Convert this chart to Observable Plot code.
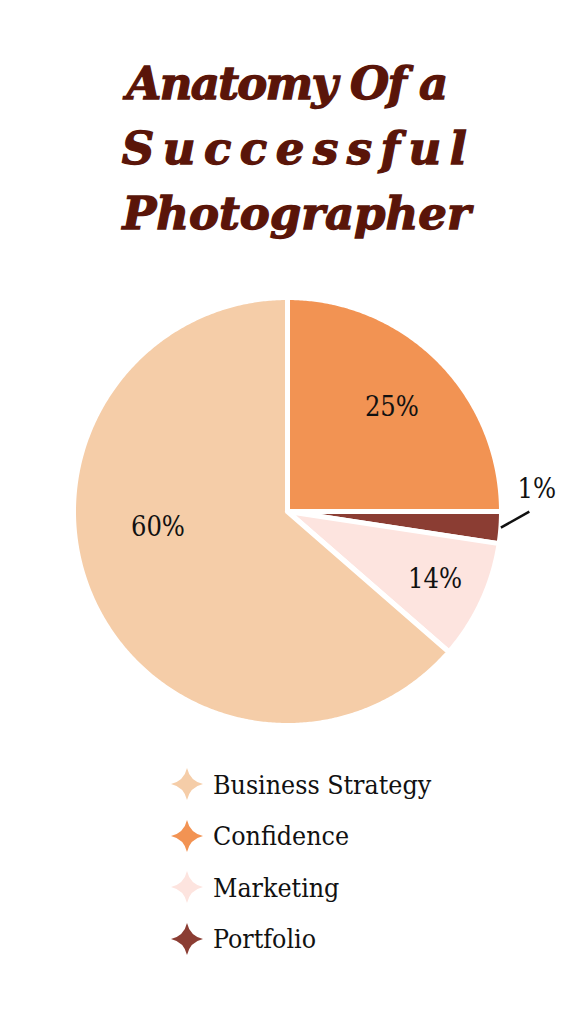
<!DOCTYPE html>
<html>
<head>
<meta charset="utf-8">
<script src="https://cdn.jsdelivr.net/npm/d3@7"></script>
<script src="https://cdn.jsdelivr.net/npm/@observablehq/plot@0.6"></script>
<style>
  html, body { margin: 0; padding: 0; background: #ffffff; }
  body { width: 573px; height: 1024px; position: relative; overflow: hidden; }
  #title { position: absolute; left: 0; top: 0; width: 573px; text-align: center;
    font-family: "DejaVu Serif", serif; font-weight: bold; font-style: italic; color: #5a1509;
    -webkit-text-stroke: 1.3px #5a1509; }
  #title div { position: absolute; left: 0; width: 573px; font-size: 45px; line-height: 1; white-space: nowrap; }
  #chart { position: absolute; left: 0; top: 260px; }
  #legend { position: absolute; left: 170px; top: 764px; font-family: "DejaVu Serif Condensed", "DejaVu Serif", serif; font-size: 26.5px; color: #111; }
  .row { position: absolute; left: 0; height: 40px; display: flex; align-items: center; white-space: nowrap; }
  .row svg { margin-right: 9px; }
</style>
</head>
<body>
<div id="title">
  <div style="top:61px; letter-spacing:-1.7px; padding-left:0px;">Anatomy Of a</div>
  <div style="top:126px; letter-spacing:8.5px; padding-left:12px;">Successful</div>
  <div style="top:191px; letter-spacing:0px; padding-left:10px;">Photographer</div>
</div>
<div id="chart"></div>
<div id="legend"></div>
<script>
// ---- data ----
const categories = ["Business Strategy", "Confidence", "Marketing", "Portfolio"];
// angular share of each slice as drawn in the picture (percent of the circle)
const shares = [63.6, 25, 9, 2.4];
// percentage labels printed on the chart
const labelValues = [60, 25, 14, 1];
const colors = ["#f5cda8", "#f29353", "#fde4df", "#8b3d33"];
// order in which slices run clockwise from 12 o'clock
const drawOrder = ["Confidence", "Portfolio", "Marketing", "Business Strategy"];

// ---- label layout (style, not data) ----
const labelLayout = {
  "Confidence": {r: 0.69, shift: 0},
  "Portfolio": {r: 1.17, shift: -9.5},
  "Marketing": {r: 0.76, shift: 0},
  "Business Strategy": {r: 0.61, shift: 17.5}
};

const rows = categories.map((c, i) => ({category: c, share: shares[i], label: labelValues[i] + "%", color: colors[i]}));
const ordered = drawOrder.map(c => rows.find(r => r.category === c));
const arcs = d3.pie().sort(null).value(d => d.share)(ordered);

const deg = Math.PI / 180;
const sliceMarks = arcs.map(a => {
  const pts = [{x: 0, y: 0}];
  const n = Math.max(2, Math.ceil((a.endAngle - a.startAngle) / (0.5 * deg)));
  for (let k = 0; k <= n; k++) {
    const t = a.startAngle + (a.endAngle - a.startAngle) * k / n;
    pts.push({x: Math.sin(t), y: Math.cos(t)});
  }
  pts.push({x: 0, y: 0});
  return Plot.line(pts, {x: "x", y: "y", fill: a.data.color, stroke: "white", strokeWidth: 5, strokeLinejoin: "round"});
});

const labelPts = arcs.map(a => {
  const L = labelLayout[a.data.category];
  const m = (a.startAngle + a.endAngle) / 2 + L.shift * deg;
  return {x: L.r * Math.sin(m), y: L.r * Math.cos(m), text: a.data.label};
});

const portfolioArc = arcs.find(a => a.data.category === "Portfolio");
const pm = (portfolioArc.startAngle + portfolioArc.endAngle) / 2;
const leader = [{x1: 1.0 * Math.sin(pm), y1: 1.0 * Math.cos(pm), x2: 1.13 * Math.sin(pm - 4.3 * deg), y2: 1.13 * Math.cos(pm - 4.3 * deg)}];

const cx = 287, cy = 251, R = 214;
const chart = Plot.plot({
  width: 573,
  height: 490,
  margin: 0,
  x: {domain: [-1, 1], range: [cx - R, cx + R], axis: null},
  y: {domain: [-1, 1], range: [cy + R, cy - R], axis: null},
  marks: [
    ...sliceMarks,
    Plot.link(leader, {x1: "x1", y1: "y1", x2: "x2", y2: "y2", stroke: "#111", strokeWidth: 2.5}),
    Plot.text(labelPts, {x: "x", y: "y", text: "text", fontSize: 27, fill: "#111",
      fontFamily: "'DejaVu Serif Condensed', 'DejaVu Serif', serif"})
  ]
});
document.getElementById("chart").appendChild(chart);

// ---- legend ----
const legend = document.getElementById("legend");
const starPath = "M0,-16 Q3,-3 16,0 Q3,3 0,16 Q-3,3 -16,0 Q-3,-3 0,-16 Z";
rows.forEach((r, i) => {
  const div = document.createElement("div");
  div.className = "row";
  div.style.top = (i * 51.5) + "px";
  div.innerHTML = `<svg width="34" height="34" viewBox="-17 -17 34 34"><path d="${starPath}" fill="${r.color}"/></svg><span>${r.category}</span>`;
  legend.appendChild(div);
});
</script>
</body>
</html>
